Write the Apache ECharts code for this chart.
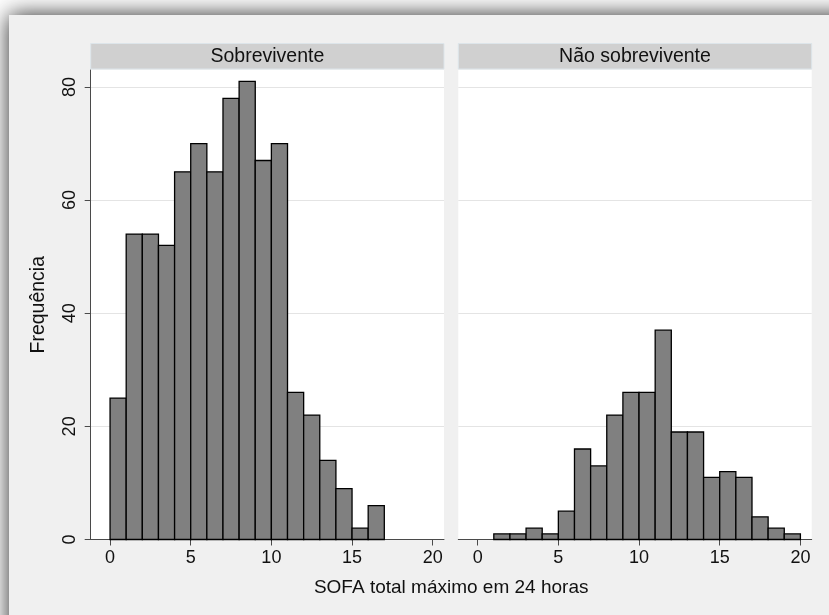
<!DOCTYPE html>
<html><head><meta charset="utf-8">
<script src="https://cdn.jsdelivr.net/npm/echarts@6/dist/echarts.min.js"></script>
<style>html,body{margin:0;padding:0;background:#fff}#c{width:829px;height:615px}</style>
</head><body><div id="c"></div>
<script>
// ---- data ----
const binStarts = [0,1,2,3,4,5,6,7,8,9,10,11,12,13,14,15,16,17,18,19];
const binWidth = 1;
const panelTitles = ['Sobrevivente', 'Não sobrevivente'];
const survivorCounts    = [25,54,54,52,65,70,65,78,81,67,70,26,22,14,9,2,6,0,0,0];
const nonSurvivorCounts = [0,1,1,2,1,5,16,13,22,26,26,37,19,19,11,12,11,4,2,1];
const yTicks = [0,20,40,60,80];
const xTicks = [0,5,10,15,20];
const yAxisTitle = 'Frequência';
const xAxisTitle = 'SOFA total máximo em 24 horas';

// ---- layout / style ----
const FONT = '"Liberation Sans", Arial, Helvetica, sans-serif';
const grids = [
  {left: 90.7, top: 70, width: 353.3, height: 469.5},
  {left: 458.3, top: 70, width: 353.4, height: 469.5}
];
const axisColor = '#4a4a4a';

function toBins(counts) {
  return binStarts.map((s, i) => [s, s + binWidth, counts[i]]).filter(d => d[2] > 0);
}
function renderBar(params, api) {
  const p0 = api.coord([api.value(0), api.value(2)]);
  const p1 = api.coord([api.value(1), 0]);
  return {
    type: 'rect',
    shape: {x: p0[0], y: p0[1], width: p1[0] - p0[0], height: p1[1] - p0[1]},
    style: {fill: '#808080', stroke: '#000', lineWidth: 1.3}
  };
}

const chart = echarts.init(document.getElementById('c'), null, {renderer: 'canvas'});

const graphics = [
  {type: 'rect', z: -10, shape: {x: 9, y: 15, width: 900, height: 700},
   style: {fill: '#f0f0f0', shadowBlur: 22, shadowColor: 'rgba(0,0,0,0.85)', shadowOffsetX: 0, shadowOffsetY: 0}}
];
grids.forEach((g, i) => {
  graphics.push({type: 'rect', z: 5, shape: {x: g.left, y: 43.5, width: g.width, height: 25.5},
    style: {fill: '#d0d0d0', stroke: '#dde5ea', lineWidth: 1}});
  graphics.push({type: 'text', z: 6, x: g.left + g.width / 2, y: 56.5,
    style: {text: panelTitles[i], font: '19.5px ' + FONT, fill: '#111', textAlign: 'center', textVerticalAlign: 'middle'}});
});
graphics.push({type: 'text', z: 6, x: (grids[0].left + grids[1].left + grids[1].width) / 2, y: 588,
  style: {text: xAxisTitle, font: '19px ' + FONT, fill: '#111', textAlign: 'center', textVerticalAlign: 'middle'}});

const option = {
  backgroundColor: 'transparent',
  animation: false,
  graphic: graphics,
  grid: grids.map(g => Object.assign({show: true, backgroundColor: '#fff', borderWidth: 0}, g)),
  xAxis: grids.map((g, i) => ({
    type: 'value', gridIndex: i, min: -1.2, max: 20.7,
    axisLine: {show: true, onZero: false, lineStyle: {color: axisColor, width: 1}},
    axisTick: {show: true, length: 6, customValues: xTicks, lineStyle: {color: axisColor, width: 1}},
    axisLabel: {customValues: xTicks, margin: 9.5, fontSize: 18, color: '#111', fontFamily: FONT},
    splitLine: {show: false}
  })),
  yAxis: grids.map((g, i) => ({
    type: 'value', gridIndex: i, min: 0, max: 83,
    name: i === 0 ? yAxisTitle : '', nameLocation: 'middle', nameGap: 42,
    nameTextStyle: {fontSize: 19.5, color: '#111', fontFamily: FONT},
    axisLine: {show: i === 0, onZero: false, lineStyle: {color: axisColor, width: 1}},
    axisTick: {show: i === 0, length: 6, customValues: yTicks, lineStyle: {color: axisColor, width: 1}},
    axisLabel: {show: i === 0, customValues: yTicks, rotate: 90, margin: 12, fontSize: 18, color: '#111', fontFamily: FONT},
    splitLine: {show: true, lineStyle: {color: '#e4e4e4', width: 1}}
  })),
  series: [
    {type: 'custom', xAxisIndex: 0, yAxisIndex: 0, renderItem: renderBar,
     encode: {x: [0, 1], y: 2}, data: toBins(survivorCounts)},
    {type: 'custom', xAxisIndex: 1, yAxisIndex: 1, renderItem: renderBar,
     encode: {x: [0, 1], y: 2}, data: toBins(nonSurvivorCounts)}
  ]
};
chart.setOption(option);
</script></body></html>
